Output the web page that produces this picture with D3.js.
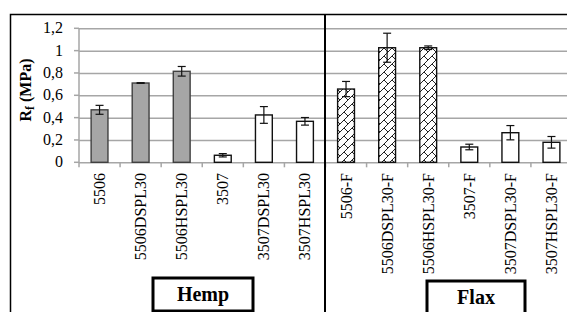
<!DOCTYPE html>
<html>
<head>
<meta charset="utf-8">
<script src="https://cdn.jsdelivr.net/npm/d3@7.9.0/dist/d3.min.js"></script>
<style>
  body { margin: 0; background: #fff; }
</style>
</head>
<body>
<div id="chart"></div>
<script>
// ---- data ----
const categories = ['5506', '5506DSPL30', '5506HSPL30', '3507', '3507DSPL30', '3507HSPL30',
  '5506-F', '5506DSPL30-F', '5506HSPL30-F', '3507-F', '3507DSPL30-F', '3507HSPL30-F'];
const values = [0.47, 0.71, 0.815, 0.063, 0.424, 0.367, 0.656, 1.026, 1.026, 0.137, 0.265, 0.179];
const errors = [0.04, 0.003, 0.043, 0.015, 0.075, 0.034, 0.068, 0.13, 0.016, 0.025, 0.064, 0.052];
// fill style per bar: grey, white, hatch
const fills = ['grey', 'grey', 'grey', 'white', 'white', 'white',
  'hatch', 'hatch', 'hatch', 'white', 'white', 'white'];
const yTicks = [0, 0.2, 0.4, 0.6, 0.8, 1, 1.2];
const groups = ['Hemp', 'Flax'];

const FONT = "'Liberation Serif', 'Times New Roman', serif";
const width = 567, height = 312;
const svg = d3.select('#chart').append('svg')
  .attr('width', width).attr('height', height)
  .attr('font-family', FONT);

// hatch pattern (diagonal brick-ish)
const defs = svg.append('defs');
const pat = defs.append('pattern')
  .attr('id', 'hatch')
  .attr('patternUnits', 'userSpaceOnUse')
  .attr('width', 8).attr('height', 8);
pat.append('rect').attr('width', 8).attr('height', 8).attr('fill', '#fff');
pat.append('path')
  .attr('d', 'M-1,9 L9,-1 M-1,1 L1,-1 M7,9 L9,7 M0,0 L4,4')
  .attr('stroke', '#222').attr('stroke-width', 1);

const margin = { left: 79, top: 28, bottom: 162 };
const x = d3.scaleBand().domain(categories).range([79, 572]).paddingInner(0.59).paddingOuter(0.295);
const xTick = d3.scaleBand().domain(categories).range([79, 572]);
const y = d3.scaleLinear().domain([0, 1.2]).range([162.3, 28.3]);

// gridlines
svg.append('g')
  .attr('transform', `translate(${margin.left},0)`)
  .call(d3.axisLeft(y).tickValues(yTicks).tickFormat('').tickSize(-(572 - 79)))
  .call(g => g.select('.domain').remove())
  .call(g => g.selectAll('line').attr('stroke', '#a6a6a6').attr('stroke-width', 1.5));

// y axis line + labels
svg.append('line')
  .attr('x1', 79).attr('x2', 79).attr('y1', y(1.2)).attr('y2', y(0))
  .attr('stroke', '#a6a6a6').attr('stroke-width', 1.5);
svg.append('g')
  .selectAll('text').data(yTicks).join('text')
  .attr('x', 63).attr('y', d => y(d) + 5)
  .attr('text-anchor', 'end')
  .attr('font-family', FONT)
  .attr('font-size', 16)
  .text(d => d3.format('.1~f')(d).replace('.', ','));
// small tick marks left of axis
svg.append('g')
  .selectAll('line').data(yTicks).join('line')
  .attr('x1', 74).attr('x2', 79).attr('y1', d => y(d)).attr('y2', d => y(d))
  .attr('stroke', '#a6a6a6').attr('stroke-width', 1.5);

// x ticks at band boundaries
const bounds = categories.map(c => xTick(c)).concat([572]);
svg.append('g')
  .selectAll('line').data(bounds).join('line')
  .attr('x1', d => d).attr('x2', d => d)
  .attr('y1', y(0)).attr('y2', y(0) + 5)
  .attr('stroke', '#a6a6a6').attr('stroke-width', 1.5);

// bars
const bars = svg.append('g');
bars.selectAll('rect').data(categories).join('rect')
  .attr('x', d => x(d))
  .attr('width', x.bandwidth())
  .attr('y', (d, i) => y(values[i]))
  .attr('height', (d, i) => y(0) - y(values[i]))
  .attr('fill', (d, i) => fills[i] === 'grey' ? '#a6a6a6' : fills[i] === 'hatch' ? 'url(#hatch)' : '#fff')
  .attr('stroke', (d, i) => fills[i] === 'grey' ? '#404040' : '#111')
  .attr('stroke-width', 1.4);

// error bars
const eb = svg.append('g').attr('stroke', '#111').attr('stroke-width', 1.2);
categories.forEach((c, i) => {
  const cx = x(c) + x.bandwidth() / 2;
  const y1 = y(values[i] + errors[i]), y2 = y(values[i] - errors[i]);
  eb.append('line').attr('x1', cx).attr('x2', cx).attr('y1', y1).attr('y2', y2);
  eb.append('line').attr('x1', cx - 4).attr('x2', cx + 4).attr('y1', y1).attr('y2', y1);
  eb.append('line').attr('x1', cx - 4).attr('x2', cx + 4).attr('y1', y2).attr('y2', y2);
});

// category labels (rotated)
svg.append('g')
  .selectAll('text').data(categories).join('text')
  .attr('transform', d => `translate(${x(d) + x.bandwidth() / 2 + 5.5},173) rotate(-90)`)
  .attr('text-anchor', 'end')
  .attr('font-family', FONT)
  .attr('font-size', 16)
  .text(d => d);

// y title
const yt = svg.append('text')
  .attr('transform', 'translate(31,90) rotate(-90)')
  .attr('text-anchor', 'middle')
  .attr('font-family', FONT)
  .attr('font-size', 16)
  .attr('font-weight', 'bold');
yt.append('tspan').text('R');
yt.append('tspan').attr('font-size', 12).attr('dy', 3).text('f');
yt.append('tspan').attr('dy', -3).text(' (MPa)');

// frame
svg.append('path')
  .attr('d', `M10.5,${height} L10.5,14.5 L${width},14.5`)
  .attr('fill', 'none').attr('stroke', '#000').attr('stroke-width', 1.5);
svg.append('line')
  .attr('x1', 325).attr('x2', 325).attr('y1', 14).attr('y2', height)
  .attr('stroke', '#000').attr('stroke-width', 2);

// group boxes
const boxes = [{ x: 153, y: 278, w: 100, h: 33 }, { x: 427, y: 281, w: 98, h: 40 }];
groups.forEach((g, i) => {
  const b = boxes[i];
  svg.append('rect')
    .attr('x', b.x).attr('y', b.y).attr('width', b.w).attr('height', b.h)
    .attr('fill', '#fff').attr('stroke', '#000').attr('stroke-width', 3);
  svg.append('text')
    .attr('x', b.x + b.w / 2).attr('y', i === 0 ? 301 : 304)
    .attr('text-anchor', 'middle')
    .attr('font-family', FONT)
    .attr('font-size', 20).attr('font-weight', 'bold')
    .text(g);
});
</script>
</body>
</html>
